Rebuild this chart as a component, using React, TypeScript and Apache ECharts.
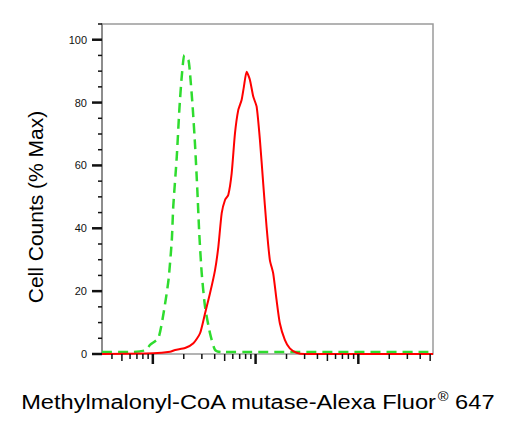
import React, { useEffect, useRef } from 'react';
import * as echarts from 'echarts';

// Axis ranges
const X_MIN = 3.2;
const X_MAX = 5330;
const Y_MIN = 0;
const Y_MAX = 105;
const Y_LABEL_STEP = 20;

// Isotype control (green dashed) : [intensity, % max]
const isotypeControl: [number, number][] = [
  [3.2, 0.6], [6, 0.6], [8.5, 1.2], [9.4, 2.9], [11.3, 5], [12.7, 12.9], [14.2, 23.5],
  [15.3, 36.3], [15.8, 46.9], [17.1, 62.8], [18.1, 77.6], [19.1, 88.2], [20.3, 95.1],
  [22.2, 93.5], [23, 89.3], [24.4, 78.7], [25.8, 66], [27.1, 52.2], [28.3, 38.4],
  [29.9, 25.7], [32.2, 15.1], [36, 6.6], [40.3, 1.3], [46, 0.6], [5330, 0.6],
];

// Methylmalonyl-CoA mutase stained (red solid)
const mmutStained: [number, number][] = [
  [3.2, 0], [10.1, 0.2], [14.7, 0.7], [16.5, 1.3], [20.6, 1.9], [24.8, 3.4], [28.8, 6.6],
  [32.2, 12.9], [36, 19.3], [40.3, 26.7], [43.4, 34.1], [46.8, 44.8], [50.4, 49],
  [54.2, 50.6], [58.5, 57.5], [63, 70.2], [67.8, 77.6], [73.1, 80.8], [76.9, 85],
  [81.8, 89.8], [88.1, 87.2], [94.9, 81.9], [102.4, 78.7], [110.2, 68.1], [118.6, 54.3],
  [127.9, 40.5], [137.7, 29.9], [148.3, 25.7], [160, 17.2], [172.2, 9.8], [192.6, 4.5],
  [215.4, 1.8], [250.2, 0.4], [300, 0], [5330, 0],
];

// Tick positions (2 = major, 1 = mid, 0 = minor)
const xMajorTicks = [10, 100, 1000];
const xMidTicks = [5, 50, 500, 5000];
const xMinorTicks = [4, 6, 7, 8, 9, 20, 30, 40, 60, 70, 80, 90, 200, 300, 400, 600, 700, 800, 900, 2000, 3000, 4000];
const yMajorTicks = [0, 20, 40, 60, 80, 100];
const yMinorTicks = [5, 10, 15, 25, 30, 35, 45, 50, 55, 65, 70, 75, 85, 90, 95, 105];

const X_TITLE = 'Methylmalonyl-CoA mutase-Alexa Fluor';
const X_TITLE_SUP = '®';
const X_TITLE_TAIL = ' 647';
const Y_TITLE = 'Cell Counts (% Max)';

const FONT = '"Liberation Sans", Arial, sans-serif';

export default function App() {
  const ref = useRef<HTMLDivElement>(null);

  useEffect(() => {
    if (!ref.current) return;
    const chart = echarts.init(ref.current, undefined, { renderer: 'svg' });

    const xTickData = [
      ...xMajorTicks.map((v) => [v, Y_MIN, 2]),
      ...xMidTicks.map((v) => [v, Y_MIN, 1]),
      ...xMinorTicks.map((v) => [v, Y_MIN, 0]),
    ];
    const yTickData = [
      ...yMajorTicks.map((v) => [X_MIN, v, 2]),
      ...yMinorTicks.map((v) => [X_MIN, v, 0]),
    ];

    chart.setOption({
      animation: false,
      backgroundColor: '#ffffff',
      grid: {
        left: 102,
        right: 80,
        top: 24,
        bottom: 74,
        show: true,
        borderColor: '#9a9a9a',
        borderWidth: 1.5,
        backgroundColor: 'transparent',
      },
      xAxis: {
        type: 'log',
        min: X_MIN,
        max: X_MAX,
        logBase: 10,
        axisLine: { show: false },
        axisTick: { show: false },
        axisLabel: { show: false },
        splitLine: { show: false },
      },
      yAxis: {
        type: 'value',
        min: Y_MIN,
        max: Y_MAX,
        interval: Y_LABEL_STEP,
        axisLine: { show: true, lineStyle: { color: '#808080', width: 1.5 } },
        axisTick: { show: false },
        splitLine: { show: false },
        axisLabel: {
          showMaxLabel: false,
          margin: 15,
          fontFamily: FONT,
          fontSize: 11,
          color: '#111',
        },
      },
      graphic: [
        {
          type: 'text',
          x: 35,
          y: 207,
          rotation: Math.PI / 2,
          style: {
            text: Y_TITLE,
            font: '21px ' + FONT,
            fill: '#000',
            textAlign: 'center',
            textVerticalAlign: 'middle',
          },
        },
        {
          type: 'text',
          x: 257.5,
          y: 402,
          scaleX: 1.125,
          style: {
            text: '{a|' + X_TITLE + '}{s|' + X_TITLE_SUP + '}{a|' + X_TITLE_TAIL + '}',
            fill: '#000',
            textAlign: 'center',
            textVerticalAlign: 'middle',
            rich: {
              a: { fontSize: 21, fontFamily: FONT, lineHeight: 24, verticalAlign: 'middle', fill: '#000' },
              s: { fontSize: 13, fontFamily: FONT, lineHeight: 24, verticalAlign: 'top', fill: '#000', padding: [0, 0, 0, 1] },
            },
          },
        },
      ],
      series: [
        {
          type: 'line',
          name: 'Isotype',
          data: isotypeControl,
          showSymbol: false,
          symbol: 'none',
          smooth: 0.2,
          lineStyle: { color: '#2fdc2f', width: 2.5, type: [10, 6] },
          z: 3,
        },
        {
          type: 'line',
          name: 'MMUT',
          data: mmutStained,
          showSymbol: false,
          symbol: 'none',
          smooth: 0.2,
          lineStyle: { color: '#ff0000', width: 2 },
          z: 4,
        },
        {
          type: 'custom',
          name: 'xTicks',
          data: xTickData,
          silent: true,
          clip: false,
          z: 5,
          renderItem: (params: any, api: any) => {
            const kind = api.value(2);
            const p = api.coord([api.value(0), Y_MIN]);
            const len = kind === 2 ? 10 : kind === 1 ? 7 : 5;
            return {
              type: 'line',
              shape: { x1: p[0], y1: p[1], x2: p[0], y2: p[1] + len },
              style: { stroke: '#111', lineWidth: kind === 2 ? 2.5 : 1.5 },
            };
          },
        },
        {
          type: 'custom',
          name: 'yTicks',
          data: yTickData,
          silent: true,
          clip: false,
          z: 5,
          renderItem: (params: any, api: any) => {
            const kind = api.value(2);
            const p = api.coord([X_MIN, api.value(1)]);
            const len = kind === 2 ? 10 : 4;
            return {
              type: 'line',
              shape: { x1: p[0] - len, y1: p[1], x2: p[0], y2: p[1] },
              style: { stroke: '#111', lineWidth: kind === 2 ? 2.5 : 1.5 },
            };
          },
        },
      ],
    });

    return () => chart.dispose();
  }, []);

  return <div ref={ref} style={{ width: 513, height: 428, position: 'absolute', left: 0, top: 0 }} />;
}
